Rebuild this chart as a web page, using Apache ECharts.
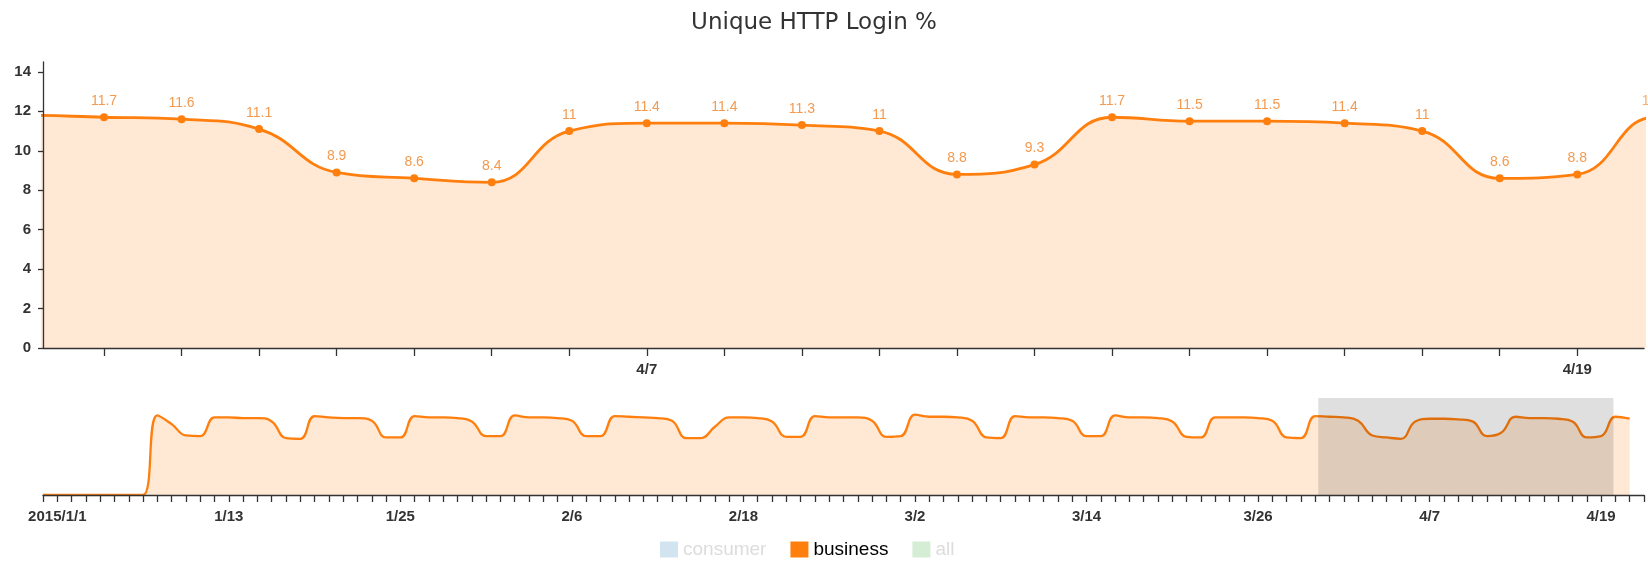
<!DOCTYPE html>
<html>
<head>
<meta charset="utf-8">
<script src="https://cdn.jsdelivr.net/npm/echarts@6/dist/echarts.min.js"></script>
<style>html,body{margin:0;padding:0;background:#fff}#c{width:1648px;height:562px}</style>
</head>
<body>
<div id="c"></div>
<script>
// ---- data ----
const firstDay = [2014, 12, 31];           // date of businessValues[0]; one value per day
const businessValues = [
  0, 0, 0, 0, 0, 0, 0, 0,
  11.9, 10.6, 8.9, 8.8,
  11.6, 11.6, 11.5, 11.5, 11.0, 8.5, 8.4,
  11.8, 11.6, 11.5, 11.5, 11.1, 8.6, 8.6,
  11.8, 11.6, 11.6, 11.5, 11.0, 8.8, 8.8,
  11.9, 11.6, 11.6, 11.5, 11.1, 8.8, 8.8,
  11.8, 11.7, 11.6, 11.5, 11.1, 8.5, 8.5,
  10.2, 11.6, 11.6, 11.5, 11.0, 8.7, 8.7,
  11.8, 11.6, 11.6, 11.6, 11.1, 8.7, 8.8,
  12.0, 11.7, 11.7, 11.6, 11.1, 8.6, 8.5,
  11.8, 11.6, 11.6, 11.5, 11.1, 8.8, 8.8,
  11.9, 11.6, 11.6, 11.5, 11.0, 8.7, 8.6,
  11.6, 11.6, 11.6, 11.5, 11.1, 8.6, 8.5,
  11.8, 11.7, 11.6, 11.1, 8.9, 8.6, 8.4,
  11.0, 11.4, 11.4, 11.3, 11.0, 8.8, 9.3,
  11.7, 11.5, 11.5, 11.4, 11.0, 8.6, 8.8,
  11.7, 11.4
];
const consumerValues = [];
const allValues = [];
const seriesNames = ['consumer', 'business', 'all'];
const tickLabels = ['2015/1/1', '1/13', '1/25', '2/6', '2/18', '3/2', '3/14', '3/26', '4/7', '4/19'];
const focusStart = [2015, 3, 30, 5, 7];    // brush window start (y, m, d, h, min)
const focusEnd = [2015, 4, 19, 20, 39];    // brush window end
const contextStart = [2014, 12, 31];
const contextEnd = [2015, 4, 22];
const yMax = 14.5;
const yInterval = 2;

// ---- helpers ----
const toTs = a => new Date(a[0], a[1] - 1, a[2], a[3] || 0, a[4] || 0).getTime();
const dayTs = i => new Date(firstDay[0], firstDay[1] - 1, firstDay[2] + i).getTime();
const businessData = businessValues.map((v, i) => [dayTs(i), v]);
const fStart = toTs(focusStart), fEnd = toTs(focusEnd);
const overflowPoint = businessData.filter(p => p[0] > fEnd).slice(0, 1);

const labelMap = {};
tickLabels.forEach(s => {
  const p = s.split('/').map(Number);
  const md = p.length === 3 ? (p[1] + '/' + p[2]) : (p[0] + '/' + p[1]);
  labelMap[md] = s;
});
const fmt = v => {
  const d = new Date(v);
  if (d.getHours() !== 0 || d.getMinutes() !== 0) return '';
  return labelMap[(d.getMonth() + 1) + '/' + d.getDate()] || '';
};

const ORANGE = '#ff7f0e';
const FILL = 'rgba(255,127,14,0.25)';
const AXIS = '#333';
const DAY = 86400000;
const SMOOTH = 0.45;
const tickFont = { fontSize: 15, fontWeight: 'bold', color: '#333', fontFamily: 'Liberation Sans, Arial, sans-serif' };

const chart = echarts.init(document.getElementById('c'), null, { renderer: 'canvas' });
chart.setOption({
  animation: false,
  backgroundColor: '#fff',
  textStyle: { fontFamily: 'Liberation Sans, Arial, sans-serif' },
  title: {
    text: 'Unique HTTP Login %',
    left: 809, top: 7, textAlign: 'center',
    textStyle: { fontSize: 23, fontWeight: 'normal', color: '#333', fontFamily: 'DejaVu Sans' }
  },
  legend: {
    left: 655, top: 535,
    itemWidth: 18, itemHeight: 16, itemGap: 24, icon: 'rect',
    selectedMode: false,
    itemStyle: { borderWidth: 0 },
    textStyle: { fontSize: 19, color: '#000', fontFamily: 'Liberation Sans, Arial, sans-serif' },
    data: [
      { name: seriesNames[0], itemStyle: { color: '#d2e4f0', borderWidth: 0 }, textStyle: { color: '#dcdcdc' } },
      { name: seriesNames[1], itemStyle: { color: ORANGE, borderWidth: 0 } },
      { name: seriesNames[2], itemStyle: { color: '#d5ecd5', borderWidth: 0 }, textStyle: { color: '#dcdcdc' } }
    ]
  },
  grid: [
    { left: 43, right: 4, top: 62, height: 286 },
    { left: 43, right: 4, top: 398, height: 97 }
  ],
  xAxis: [
    {
      type: 'time', gridIndex: 0, min: fStart, max: fEnd,
      minInterval: DAY, maxInterval: DAY, splitNumber: 40,
      axisLine: { lineStyle: { color: AXIS, width: 1.3 } },
      axisTick: { length: 8, lineStyle: { color: AXIS, width: 1.3 } },
      axisLabel: Object.assign({ formatter: fmt, margin: 14, showMinLabel: false, showMaxLabel: false }, tickFont),
      splitLine: { show: false }, z: 5
    },
    {
      type: 'time', gridIndex: 1, min: toTs(contextStart), max: toTs(contextEnd),
      minInterval: DAY, maxInterval: DAY, splitNumber: 150,
      axisLine: { lineStyle: { color: AXIS, width: 1.3 } },
      axisTick: { length: 7, lineStyle: { color: AXIS, width: 1.3 } },
      axisLabel: Object.assign({ formatter: fmt, margin: 14, showMinLabel: false, showMaxLabel: false }, tickFont),
      splitLine: { show: false }, z: 5
    }
  ],
  yAxis: [
    {
      type: 'value', gridIndex: 0, min: 0, max: yMax, interval: yInterval,
      axisLine: { show: true, lineStyle: { color: AXIS, width: 1.3 } },
      axisTick: { show: true, length: 5, lineStyle: { color: AXIS, width: 1.3 } },
      axisLabel: Object.assign({ margin: 12, showMaxLabel: false }, tickFont),
      splitLine: { show: false }, z: 5
    },
    {
      type: 'value', gridIndex: 1, min: 0, max: yMax, show: false,
      splitLine: { show: false }
    }
  ],
  series: [
    { name: seriesNames[0], type: 'line', data: consumerValues, color: '#1f77b4', xAxisIndex: 0, yAxisIndex: 0 },
    {
      name: seriesNames[1], type: 'line', xAxisIndex: 0, yAxisIndex: 0,
      data: businessData, smooth: SMOOTH, clip: true,
      symbol: 'circle', symbolSize: 8, showSymbol: true, showAllSymbol: true,
      color: ORANGE,
      lineStyle: { color: ORANGE, width: 2.8 },
      itemStyle: { color: ORANGE },
      areaStyle: { color: FILL, origin: 'start' },
      label: { show: true, position: 'top', distance: 5, fontSize: 14, color: '#f39a50' },
      z: 2
    },
    {
      name: seriesNames[1], type: 'scatter', xAxisIndex: 0, yAxisIndex: 0,
      data: overflowPoint, clip: false, symbolSize: 8, color: ORANGE,
      label: { show: true, position: 'top', distance: 5, fontSize: 14, color: '#f39a50' }
    },
    {
      name: seriesNames[1], type: 'line', xAxisIndex: 1, yAxisIndex: 1,
      data: businessData, smooth: SMOOTH, clip: true, symbol: 'none',
      color: ORANGE,
      lineStyle: { color: ORANGE, width: 2.3 },
      areaStyle: { color: FILL, origin: 'start' },
      markArea: {
        silent: true, z: 10,
        itemStyle: { color: 'rgba(0,0,0,0.125)' },
        data: [[{ xAxis: fStart }, { xAxis: fEnd }]]
      },
      z: 2
    },
    { name: seriesNames[2], type: 'line', data: allValues, color: '#2ca02c', xAxisIndex: 0, yAxisIndex: 0 }
  ]
});
</script>
</body>
</html>
